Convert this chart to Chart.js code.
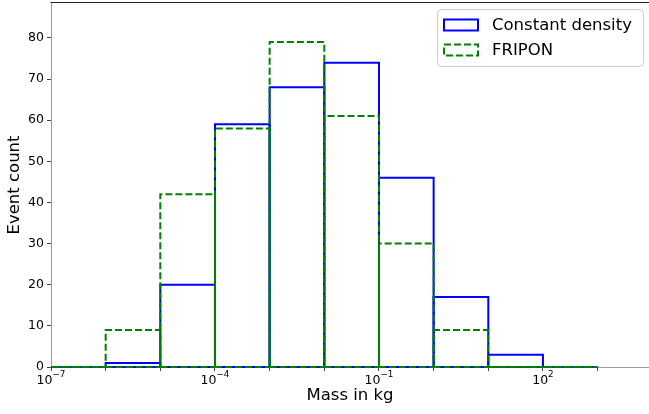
<!DOCTYPE html>
<html><head><meta charset="utf-8">
<script src="https://cdn.jsdelivr.net/npm/chart.js@4/dist/chart.umd.min.js"></script>
<style>html,body{margin:0;padding:0;background:#fff}canvas{display:block}</style>
</head><body>
<canvas id="c" width="649" height="414"></canvas>
<script>
// Bin edges as powers of ten (10^-7 ... 10^3)
const binExponents = [-7,-6,-5,-4,-3,-2,-1,0,1,2,3];
// Counts per bin
const constantDensity = [0,1,20,59,68,74,46,17,3,0];
const fripon          = [0,9,42,58,79,61,30,9,0,0];
const seriesLabels = ['Constant density','FRIPON'];
const yTickValues = [0,10,20,30,40,50,60,70,80];
const xTickExponents = [-7,-6,-5,-4,-3,-2,-1,0,1,2,3];
const xLabelExponents = [-7,-4,-1,2];
const xAxisTitle = 'Mass in kg';
const yAxisTitle = 'Event count';

const seriesStyles = [
  {color:'#0000ff', dash:[], order:2},
  {color:'#008000', dash:[7,3], order:1}
];

// one unfilled rectangle per bin (like matplotlib bars with fill=False)
function barDatasets(counts, s){
  return counts.map((h,i)=>{
    const l=Math.pow(10,binExponents[i]), r=Math.pow(10,binExponents[i+1]);
    return {
      data:[{x:l,y:0},{x:r,y:0},{x:r,y:h},{x:l,y:h},{x:l,y:0}],
      showLine:true, borderColor:s.color, borderWidth:2, borderDash:s.dash,
      pointRadius:0, tension:0, fill:false, order:s.order, clip:false,
      borderJoinStyle:'miter', borderCapStyle:'butt'
    };
  });
}

const FONT = 'DejaVu Sans';
Chart.defaults.font.family = FONT;
Chart.defaults.color = '#000';

const framePlugin = {
  id:'frame',
  afterDraw(chart){
    const {ctx, chartArea:a} = chart;
    ctx.save();
    // top spine
    ctx.strokeStyle='#222'; ctx.lineWidth=1; ctx.setLineDash([]);
    const ty = Math.round(a.top)-0.5;
    ctx.beginPath(); ctx.moveTo(a.left-0.5, ty); ctx.lineTo(a.right, ty); ctx.stroke();
    // x tick labels: 10 with superscript exponent
    const xs = chart.scales.x;
    ctx.fillStyle='#000'; ctx.textAlign='left'; ctx.textBaseline='alphabetic';
    xLabelExponents.forEach(e=>{
      const px = xs.getPixelForValue(Math.pow(10,e));
      const base='10', exp=(e<0?'\u2212':'')+Math.abs(e);
      ctx.font='12.5px "'+FONT+'"'; const w1=ctx.measureText(base).width;
      ctx.font='8.8px "'+FONT+'"'; const w2=ctx.measureText(exp).width;
      const sx = px - (w1+w2)/2;
      ctx.font='12.5px "'+FONT+'"'; ctx.fillText(base, sx, a.bottom+16.5);
      ctx.font='8.8px "'+FONT+'"'; ctx.fillText(exp, sx+w1, a.bottom+10);
    });
    // legend
    const x=437.5, y=9.5, w=206, h=57, r=4;
    ctx.beginPath();
    ctx.moveTo(x+r,y); ctx.lineTo(x+w-r,y); ctx.arcTo(x+w,y,x+w,y+r,r);
    ctx.lineTo(x+w,y+h-r); ctx.arcTo(x+w,y+h,x+w-r,y+h,r);
    ctx.lineTo(x+r,y+h); ctx.arcTo(x,y+h,x,y+h-r,r);
    ctx.lineTo(x,y+r); ctx.arcTo(x,y,x+r,y,r); ctx.closePath();
    ctx.fillStyle='rgba(255,255,255,0.8)'; ctx.fill();
    ctx.strokeStyle='#cccccc'; ctx.lineWidth=1; ctx.stroke();
    const rows=[25,50];
    seriesLabels.forEach((label,i)=>{
      const cy=rows[i], s=seriesStyles[i];
      ctx.setLineDash(s.dash);
      ctx.strokeStyle=s.color; ctx.lineWidth=2;
      ctx.strokeRect(444, cy-5.5, 34, 11);
      ctx.setLineDash([]);
      ctx.fillStyle='#000'; ctx.font='16.5px "'+FONT+'"';
      ctx.textBaseline='middle'; ctx.textAlign='left';
      ctx.fillText(label, 492, cy+1);
    });
    ctx.restore();
  }
};

new Chart(document.getElementById('c'), {
  type:'scatter',
  data:{ datasets:[
    ...barDatasets(constantDensity, seriesStyles[0]),
    ...barDatasets(fripon, seriesStyles[1])
  ]},
  options:{
    responsive:false, animation:false, events:[],
    layout:{padding:{top:3,left:0,right:0,bottom:0}},
    plugins:{legend:{display:false}, tooltip:{enabled:false}},
    scales:{
      x:{
        type:'logarithmic', min:1e-7, max:Math.pow(10,3.94),
        afterBuildTicks(s){ s.ticks = xTickExponents.map(e=>({value:Math.pow(10,e)})); },
        afterFit(s){ s.height = 47; s.paddingLeft=0; s.paddingRight=0; s.paddingTop=0; s.paddingBottom=0; },
        ticks:{ autoSkip:false, maxRotation:0, minRotation:0, padding:0, font:{size:12.5}, callback(){ return ''; } },
        grid:{ drawOnChartArea:false, drawTicks:true, tickLength:4, color:'#444' },
        border:{ color:'#999', width:1 },
        title:{ display:true, text:xAxisTitle, font:{size:16.5}, color:'#000', padding:{top:0,bottom:8} }
      },
      y:{
        type:'linear', min:0, max:88.5,
        afterBuildTicks(s){ s.ticks = yTickValues.map(v=>({value:v})); },
        afterFit(s){ s.width = 51; s.paddingTop=0; s.paddingBottom=0; s.paddingLeft=0; s.paddingRight=0; },
        ticks:{ padding:3, color:'#000', font:{size:12.5} },
        grid:{ drawOnChartArea:false, drawTicks:true, tickLength:4, color:'#444' },
        border:{ color:'#999', width:1 },
        title:{ display:true, text:yAxisTitle, font:{size:16.5}, color:'#000', padding:{top:5,bottom:0} }
      }
    }
  },
  plugins:[framePlugin]
});
</script>
</body></html>
